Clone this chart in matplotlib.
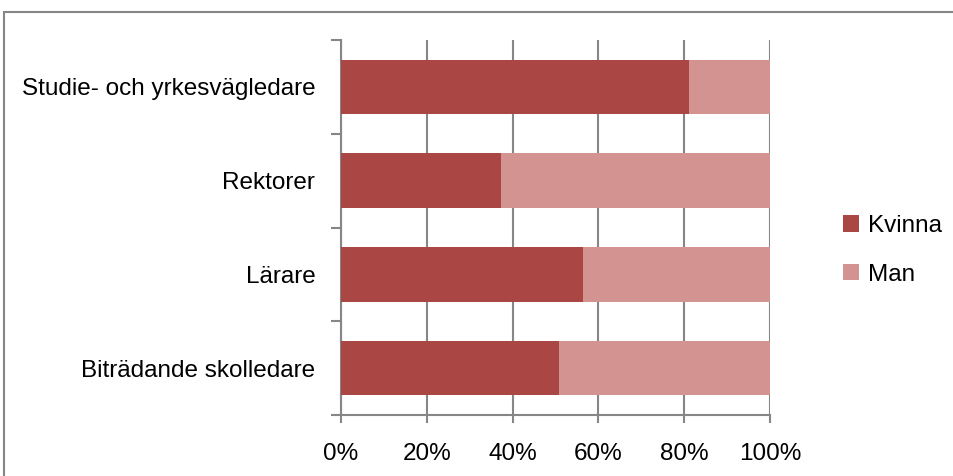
import matplotlib
matplotlib.use("Agg")
import matplotlib.pyplot as plt
from matplotlib.patches import Rectangle

categories = ["Studie- och yrkesvägledare", "Rektorer", "Lärare", "Biträdande skolledare"]
kvinna = [81.1, 37.3, 56.4, 50.8]
man = [100 - v for v in kvinna]
xticks = [0, 20, 40, 60, 80, 100]
xticklabels = ["0%", "20%", "40%", "60%", "80%", "100%"]

plt.rcParams['font.family'] = ['Liberation Sans', 'DejaVu Sans']
FS = 17.5

fig = plt.figure(figsize=(9.54, 4.76), dpi=100)
W, H = 954, 476
ax = fig.add_axes([341 / W, (476 - 415) / H, (770 - 341) / W, (415 - 40) / H])

pos = list(range(len(categories)))[::-1]
c1 = "#aa4744"
c2 = "#d39391"
ax.barh(pos, kvinna, height=0.58, color=c1, label="Kvinna", zorder=3)
ax.barh(pos, man, left=kvinna, height=0.58, color=c2, label="Man", zorder=3)

ax.set_xlim(0, 100)
ax.set_ylim(-0.5, 3.5)
ax.set_xticks(xticks)
ax.set_xticklabels(xticklabels, fontsize=FS)
ax.set_yticks(pos)
ax.set_yticklabels(categories, fontsize=FS)
ax.tick_params(axis='y', length=0, pad=18.5)
ax.tick_params(axis='x', length=6, color="#868686", width=1.5, pad=14)
ax.set_yticks([-0.5, 0.5, 1.5, 2.5, 3.5], minor=True)
ax.tick_params(axis='y', which='minor', length=7, color="#868686", width=1.5)
ax.grid(axis='x', color="#868686", linewidth=1.5, zorder=0)
for s in ['top', 'right']:
    ax.spines[s].set_visible(False)
for s in ['left', 'bottom']:
    ax.spines[s].set_color("#868686")
    ax.spines[s].set_linewidth(1.5)

leg = fig.legend(loc='upper left', bbox_to_anchor=(821 / W, 1 - 193 / H), frameon=False,
                 fontsize=FS, handlelength=0.66, handleheight=0.66, handletextpad=0.37,
                 labelspacing=1.1)

fig.patches.append(Rectangle((4 / W, -0.1), 1.2, 1 - 12 / H + 0.1, transform=fig.transFigure,
                             fill=False, edgecolor="#868686", linewidth=1.5))

fig.savefig("out.png", dpi=100)
